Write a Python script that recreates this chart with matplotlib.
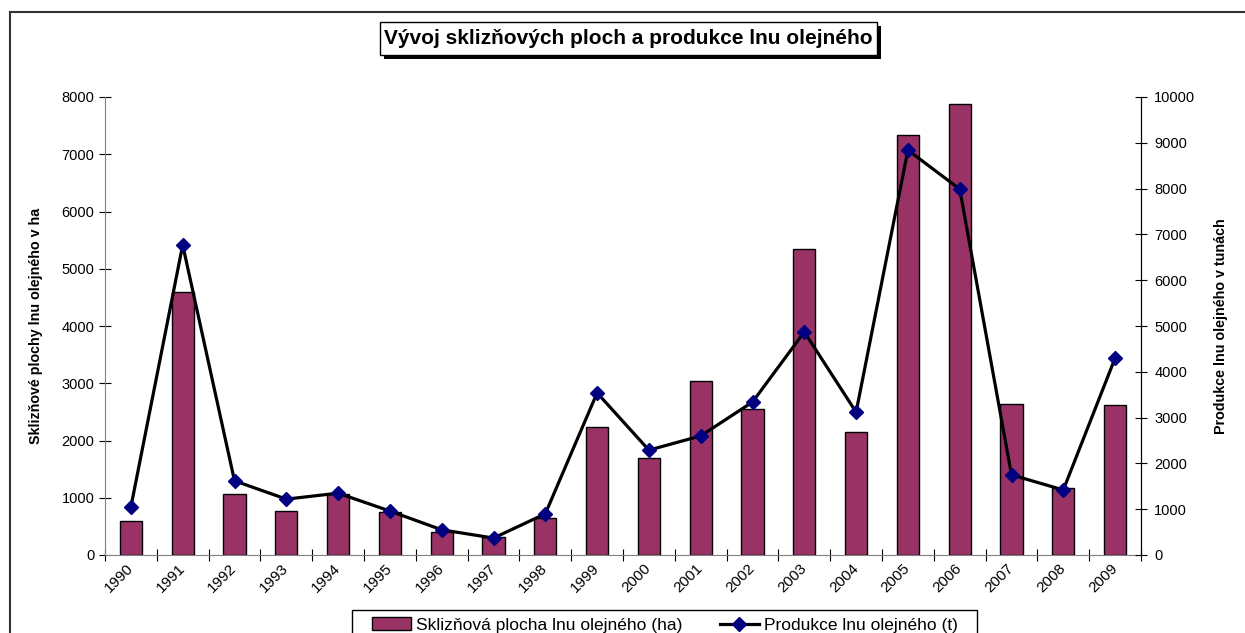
import numpy as np
import matplotlib
matplotlib.use("Agg")
import matplotlib.pyplot as plt
from matplotlib.patches import Rectangle
from matplotlib.lines import Line2D

plt.rcParams['font.family'] = ['Liberation Sans', 'DejaVu Sans']

# data
years = [str(y) for y in range(1990, 2010)]
plocha_ha = [600, 4600, 1070, 770, 1070, 750, 400, 310, 650, 2240,
             1700, 3040, 2550, 5350, 2150, 7340, 7870, 2640, 1170, 2620]
produkce_t = [1050, 6770, 1620, 1220, 1350, 960, 550, 370, 900, 3540,
              2290, 2600, 3340, 4870, 3120, 8840, 7990, 1750, 1420, 4300]

title = "Vývoj sklizňových ploch a produkce lnu olejného"
ylabel_left = "Sklizňové plochy lnu olejného v ha"
ylabel_right = "Produkce lnu olejného v tunách"
legend_bar = "Sklizňová plocha lnu olejného (ha)"
legend_line = "Produkce lnu olejného (t)"

bar_color = "#993366"
marker_color = "#000080"

W, H = 1245, 633
fig = plt.figure(figsize=(W / 100, H / 100), dpi=100)
ax = fig.add_axes([105 / W, 1 - 555 / H, (1141 - 105) / W, (555 - 97) / H])
ax2 = ax.twinx()

x = np.arange(len(years))
bars = ax.bar(x, plocha_ha, width=0.43, color=bar_color, edgecolor="black", linewidth=1)
line, = ax2.plot(x, produkce_t, color="black", linewidth=2.3, marker="D",
                 markersize=7, markerfacecolor=marker_color, markeredgecolor=marker_color)

ax.set_xlim(-0.5, len(years) - 0.5)
ax.set_ylim(0, 8000)
ax2.set_ylim(0, 10000)
ax.set_yticks(np.arange(0, 8001, 1000))
ax2.set_yticks(np.arange(0, 10001, 1000))

# ticks on category boundaries, labels on centres
ax.set_xticks(np.arange(-0.5, len(years)), labels=[])
ax.set_xticks(x, minor=True)
ax.set_xticklabels(years, minor=True, rotation=45, ha="right", va="center",
                   rotation_mode="anchor", fontsize=11)
ax.tick_params(axis="x", which="minor", length=0, pad=8)
ax.tick_params(axis="x", which="major", direction="inout", length=8, color="black")
ax.tick_params(axis="y", direction="inout", length=9, labelsize=10.5, pad=3)
ax2.tick_params(axis="y", direction="inout", length=9, labelsize=10.5, pad=5)

for a in (ax, ax2):
    a.spines["top"].set_visible(False)
ax.spines["left"].set_color("#808080")
ax.spines["bottom"].set_color("#808080")
ax2.spines["left"].set_visible(False)
ax2.spines["bottom"].set_visible(False)
ax2.spines["right"].set_color("black")

ax.set_ylabel(ylabel_left, fontsize=10.3, fontweight="bold")
ax2.set_ylabel(ylabel_right, fontsize=10.3, fontweight="bold")
ax.yaxis.set_label_coords(-62 / (1141 - 105), 0.5)
ax2.yaxis.set_label_coords(1 + 73 / (1141 - 105), 0.5)

# title box with shadow
tx0, ty0, tx1, ty1 = 380, 22, 877, 55
fig.patches.append(Rectangle(((tx0 + 4) / W, 1 - (ty1 + 4) / H), (tx1 - tx0) / W, (ty1 - ty0) / H,
                             transform=fig.transFigure, facecolor="black", edgecolor="none"))
fig.patches.append(Rectangle((tx0 / W, 1 - ty1 / H), (tx1 - tx0) / W, (ty1 - ty0) / H,
                             transform=fig.transFigure, facecolor="white", edgecolor="black", linewidth=1))
fig.text((tx0 + tx1) / 2 / W, 1 - (ty0 + ty1) / 2 / H, title, ha="center", va="center",
         fontsize=15, fontweight="bold")

# chart border (left and top visible)
fig.lines.append(Line2D([10 / W, 10 / W], [0, 1 - 12 / H], transform=fig.transFigure,
                        color="#333333", linewidth=1.5))
fig.lines.append(Line2D([10 / W, 1], [1 - 12 / H, 1 - 12 / H], transform=fig.transFigure,
                        color="#333333", linewidth=1.5))

# legend frame drawn separately so its padding matches the reference
lx0, lx1, ly0 = 352, 977, 610
fig.patches.append(Rectangle((lx0 / W, -0.05), (lx1 - lx0) / W, 1 - ly0 / H + 0.05,
                             transform=fig.transFigure, facecolor="white", edgecolor="black",
                             linewidth=1, zorder=1))
leg = fig.legend([bars, line], [legend_bar, legend_line], loc="center",
                 bbox_to_anchor=(665 / W, 1 - 625 / H), borderaxespad=0, ncol=2,
                 fontsize=12.5, frameon=False, borderpad=0.0, handlelength=2.2,
                 columnspacing=2.2, handletextpad=0.3)
leg.set_zorder(2)

fig.savefig("out.png", dpi=100)
